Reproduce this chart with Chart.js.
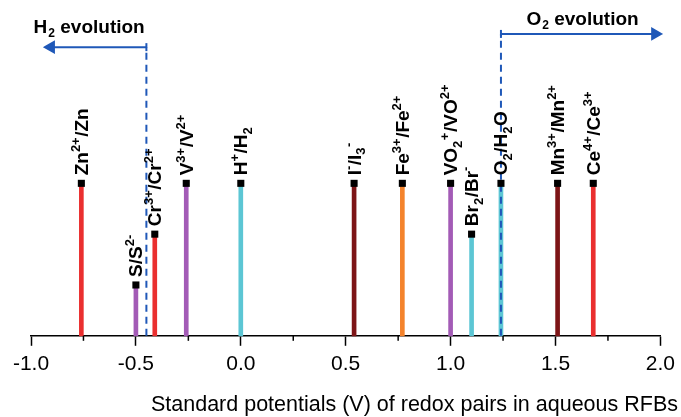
<!DOCTYPE html>
<html>
<head>
<meta charset="utf-8">
<script src="https://cdn.jsdelivr.net/npm/chart.js@4.4.1/dist/chart.umd.min.js"></script>
<style>
  html, body { margin: 0; padding: 0; background: #fff; }
  canvas { display: block; }
</style>
</head>
<body>
<canvas id="redoxChart" width="681" height="417"></canvas>
<script>
// redox pairs, potentials (V) and bar level (arbitrary height)
const pairs = ['Zn2+/Zn', 'S/S2-', 'Cr3+/Cr2+', 'V3+/V2+', 'H+/H2', 'I-/I3-',
               'Fe3+/Fe2+', 'VO2+/VO2+', 'Br2/Br-', 'O2/H2O', 'Mn3+/Mn2+', 'Ce4+/Ce3+'];
const potentials = [-0.76, -0.50, -0.41, -0.26, 0.00, 0.54, 0.77, 1.00, 1.10, 1.24, 1.51, 1.68];
const levels = [3, 1, 2, 3, 3, 3, 3, 3, 2, 3, 3, 3];
// label pieces: [text, 0 normal | 1 superscript | -1 subscript]
const labelParts = [
  [['Zn', 0], ['2+', 1], ['/Zn', 0]],
  [['S/S', 0], ['2-', 1]],
  [['Cr', 0], ['3+', 1], ['/Cr', 0], ['2+', 1]],
  [['V', 0], ['3+', 1], ['/V', 0], ['2+', 1]],
  [['H', 0], ['+', 1], ['/H', 0], ['2', -1]],
  [['I', 0], ['-', 1], ['/I', 0], ['3', -1], ['-', 1]],
  [['Fe', 0], ['3+', 1], ['/Fe', 0], ['2+', 1]],
  [['VO', 0], ['2', -1], ['+', 1], ['/VO', 0], ['2+', 1]],
  [['Br', 0], ['2', -1], ['/Br', 0], ['-', 1]],
  [['O', 0], ['2', -1], ['/H', 0], ['2', -1], ['O', 0]],
  [['Mn', 0], ['3+', 1], ['/Mn', 0], ['2+', 1]],
  [['Ce', 0], ['4+', 1], ['/Ce', 0], ['3+', 1]]
];
const xTicks = [-1.0, -0.5, 0.0, 0.5, 1.0, 1.5, 2.0];
// gas evolution limits (V) and arrow extents
const h2Limit = -0.45, h2ArrowEnd = -0.905, h2ArrowLevel = 5.68;
const o2Limit = 1.24, o2ArrowEnd = 1.975, o2ArrowLevel = 5.94;

const RED = '#ea2f2f', PURPLE = '#a35bb6', CYAN = '#5cc6d4', DARK = '#7d1517', ORANGE = '#f4832c';
const BLUE = '#1f58b8';
const barColors = [RED, PURPLE, RED, PURPLE, CYAN, DARK, ORANGE, PURPLE, CYAN, CYAN, DARK, RED];
const FONT = "Arial, 'Liberation Sans', sans-serif";

const isMajor = v => Math.abs(v * 2 - Math.round(v * 2)) < 1e-9;

function drawRich(ctx, parts, size) {
  let x = 0;
  parts.forEach(([t, k]) => {
    const s = k === 0 ? size : Math.round(size * 0.68);
    ctx.font = 'bold ' + s + 'px ' + FONT;
    const dy = k === 1 ? -size * 0.42 : (k === -1 ? size * 0.24 : 0);
    ctx.fillText(t, x, dy);
    x += ctx.measureText(t).width + (k === 0 ? 0 : 0.5);
  });
}

const labelPlugin = {
  id: 'redoxLabels',
  afterDatasetsDraw(chart) {
    const ctx = chart.ctx;
    const meta = chart.getDatasetMeta(0);
    ctx.save();
    ctx.fillStyle = '#000';
    ctx.textBaseline = 'alphabetic';
    meta.data.forEach((bar, i) => {
      ctx.save();
      ctx.translate(bar.x + 6.5, bar.y - 8);
      ctx.rotate(-Math.PI / 2);
      drawRich(ctx, labelParts[i], 19);
      ctx.restore();
    });

    // gas evolution captions
    const xs = chart.scales.x, ys = chart.scales.y;
    const cap = (main, sub, rest, cx, by) => {
      ctx.font = 'bold 19px ' + FONT;
      const w1 = ctx.measureText(main).width;
      ctx.font = 'bold 12px ' + FONT;
      const w2 = ctx.measureText(sub).width;
      ctx.font = 'bold 19px ' + FONT;
      const w3 = ctx.measureText(rest).width;
      let x = cx - (w1 + w2 + w3) / 2;
      ctx.fillText(main, x, by);
      ctx.font = 'bold 12px ' + FONT;
      ctx.fillText(sub, x + w1 + 1, by + 4);
      ctx.font = 'bold 19px ' + FONT;
      ctx.fillText(rest, x + w1 + w2 + 1, by);
    };
    const hMid = (xs.getPixelForValue(h2Limit) + xs.getPixelForValue(h2ArrowEnd)) / 2;
    cap('H', '2', ' evolution', hMid - 10, ys.getPixelForValue(h2ArrowLevel) - 14);
    const oMid = (xs.getPixelForValue(o2Limit) + xs.getPixelForValue(o2ArrowEnd)) / 2;
    cap('O', '2', ' evolution', oMid + 4, ys.getPixelForValue(o2ArrowLevel) - 9);

    // minor ticks
    ctx.strokeStyle = '#000';
    ctx.lineWidth = 1.5;
    xs.ticks.forEach(t => {
      if (isMajor(t.value)) return;
      const px = xs.getPixelForValue(t.value);
      ctx.beginPath();
      ctx.moveTo(px, xs.top);
      ctx.lineTo(px, xs.top + 5);
      ctx.stroke();
    });

    // axis title
    ctx.font = '21.5px ' + FONT;
    ctx.textAlign = 'right';
    ctx.fillText('Standard potentials (V) of redox pairs in aqueous RFBs', chart.width - 3, 411);
    ctx.restore();
  }
};

new Chart(document.getElementById('redoxChart').getContext('2d'), {
  type: 'bar',
  data: {
    datasets: [
      {
        type: 'bar',
        data: potentials.map((p, i) => ({ x: p, y: levels[i] })),
        backgroundColor: barColors,
        barThickness: 4,
        order: 3
      },
      {
        type: 'scatter',
        data: potentials.map((p, i) => ({ x: p, y: levels[i] })),
        pointStyle: 'rect',
        pointRadius: 5,
        backgroundColor: '#000',
        borderColor: '#000',
        borderWidth: 0,
        order: 1
      },
      {
        type: 'line',
        data: [{ x: h2Limit, y: 0 }, { x: h2Limit, y: h2ArrowLevel }],
        borderColor: BLUE, borderWidth: 2, borderDash: [7, 5],
        pointRadius: 0, order: 2
      },
      {
        type: 'line',
        data: [{ x: o2Limit, y: 0 }, { x: o2Limit, y: o2ArrowLevel }],
        borderColor: BLUE, borderWidth: 2, borderDash: [7, 5],
        pointRadius: 0, order: 2
      },
      {
        type: 'line',
        data: [{ x: h2Limit, y: h2ArrowLevel }, { x: h2ArrowEnd, y: h2ArrowLevel }],
        borderColor: BLUE, borderWidth: 2,
        pointStyle: ['line', 'triangle'], rotation: [90, -90], pointRadius: [4, 6],
        pointBorderColor: BLUE, pointBackgroundColor: BLUE, pointBorderWidth: 2,
        order: 2
      },
      {
        type: 'line',
        data: [{ x: o2Limit, y: o2ArrowLevel }, { x: o2ArrowEnd, y: o2ArrowLevel }],
        borderColor: BLUE, borderWidth: 2,
        pointStyle: ['line', 'triangle'], rotation: [90, 90], pointRadius: [4, 6],
        pointBorderColor: BLUE, pointBackgroundColor: BLUE, pointBorderWidth: 2,
        order: 2
      }
    ]
  },
  options: {
    responsive: false,
    animation: false,
    clip: false,
    layout: { padding: { left: 31, right: 17, top: 0, bottom: 34 } },
    plugins: { legend: { display: false }, tooltip: { enabled: false } },
    scales: {
      x: {
        type: 'linear',
        min: -1, max: 2,
        offset: false,
        afterBuildTicks: axis => {
          const t = [];
          for (let v = -1; v <= 2.0001; v += 0.25) t.push({ value: Math.round(v * 100) / 100 });
          axis.ticks = t;
        },
        ticks: {
          autoSkip: false,
          maxRotation: 0,
          padding: 6,
          color: '#000',
          font: { family: FONT, size: 21 },
          callback: v => (isMajor(v) && xTicks.includes(v)) ? v.toFixed(1) : ''
        },
        grid: {
          offset: false,
          drawOnChartArea: false,
          tickLength: 10,
          tickWidth: 1.5,
          tickColor: c => (c.tick && isMajor(c.tick.value)) ? '#000' : 'rgba(0,0,0,0)'
        },
        border: { color: '#000', width: 1.5 }
      },
      y: {
        display: false,
        min: 0, max: 6.45
      }
    }
  },
  plugins: [labelPlugin]
});
</script>
</body>
</html>
